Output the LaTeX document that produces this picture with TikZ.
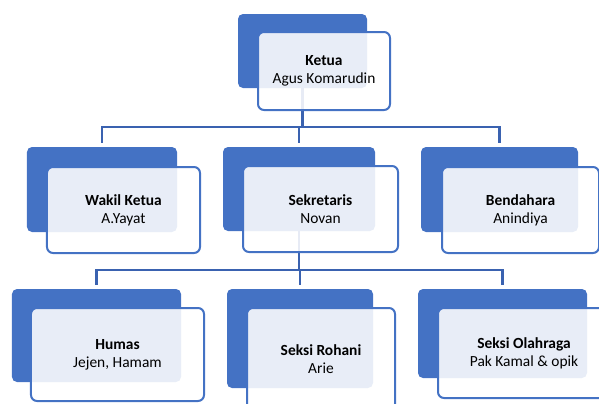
\documentclass[tikz,border=0pt]{standalone}
\usepackage{fontspec}
\setmainfont{Carlito}
\definecolor{accent}{RGB}{68,114,196}
\definecolor{linec}{RGB}{58,98,176}
\begin{document}
\begin{tikzpicture}[x=1bp,y=-1bp,
  backbox/.style={fill=accent, rounded corners=5bp, inner sep=0pt, draw=none},
  frontbox/.style={draw=accent, line width=2bp, fill=white, fill opacity=0.88, text opacity=1, rounded corners=6bp, inner sep=0pt, align=center, font=\fontsize{15.5}{18}\selectfont},
  conn/.style={draw=linec, line width=2.8bp}]
\useasboundingbox (0,0) rectangle (599,403);
% back boxes
\node[backbox, minimum width=129bp, minimum height=74bp] (kB) at (302.5,51) {};
\node[backbox, minimum width=150bp, minimum height=85bp] (wB) at (102,189.5) {};
\node[backbox, minimum width=152bp, minimum height=84bp] (sB) at (299,189) {};
\node[backbox, minimum width=157bp, minimum height=85bp] (bB) at (499.5,189.5) {};
\node[backbox, minimum width=169bp, minimum height=93bp] (hB) at (96.5,335.5) {};
\node[backbox, minimum width=146bp, minimum height=99bp] (rB) at (300,338.5) {};
\node[backbox, minimum width=169bp, minimum height=89bp] (oB) at (502.5,333.5) {};
% connectors
\coordinate (bar1) at (0,127);
\coordinate (bar2) at (0,270);
\draw[conn, shorten >=4bp] (kB.south) -- (kB.south |- bar1) -| (wB.north);
\draw[conn, shorten >=4bp] (kB.south) -- (kB.south |- bar1) -| (sB.north);
\draw[conn, shorten >=4bp] (kB.south) -- (kB.south |- bar1) -| (bB.north);
\draw[conn, shorten >=4bp] (sB.south) -- (sB.south |- bar2) -| (hB.north);
\draw[conn, shorten >=4bp] (sB.south) -- (sB.south |- bar2) -| (rB.north);
\draw[conn, shorten >=4bp] (sB.south) -- (sB.south |- bar2) -| (oB.north);
% front boxes
\node[frontbox, minimum width=132bp, minimum height=78bp] (kF) at (324,71) {\textbf{Ketua}\\Agus Komarudin};
\node[frontbox, minimum width=153bp, minimum height=86bp] (wF) at (123.5,210) {\textbf{Wakil Ketua}\\A.Yayat};
\node[frontbox, minimum width=155bp, minimum height=86bp] (sF) at (320.5,209) {\textbf{Sekretaris}\\Novan};
\node[frontbox, minimum width=157bp, minimum height=86bp] (bF) at (520.5,210) {\textbf{Bendahara}\\Anindiya};
\node[frontbox, minimum width=173bp, minimum height=93bp] (hF) at (117.5,354.5) {\textbf{Humas}\\Jejen, Hamam};
\node[frontbox, minimum width=148bp, minimum height=102bp] (rF) at (321,359) {\textbf{Seksi Rohani}\\Arie};
\node[frontbox, minimum width=172bp, minimum height=90bp] (oF) at (524,353) {\textbf{Seksi Olahraga}\\Pak Kamal \& opik};
\end{tikzpicture}
\end{document}
